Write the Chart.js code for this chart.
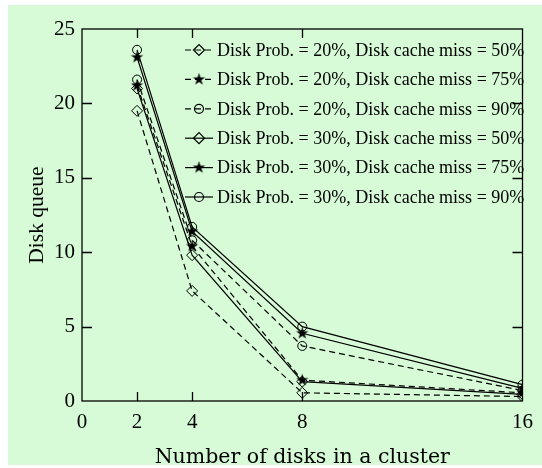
<!DOCTYPE html>
<html>
<head>
<meta charset="utf-8">
<script src="https://cdn.jsdelivr.net/npm/chart.js@4.4.0/dist/chart.umd.min.js"></script>
<style>
  html, body { margin: 0; padding: 0; background: #ffffff; }
</style>
</head>
<body>
<canvas id="myChart" width="542" height="468"></canvas>
<script>
// discos por cluster y cola de disco medida
const discos = [2, 4, 8, 16];
const ticksX = [0, 2, 4, 8, 16];
const ticksY = [0, 5, 10, 15, 20, 25];

const p20m50 = [19.5, 7.4, 0.55, 0.3];
const p20m75 = [21.2, 10.4, 1.4, 0.55];
const p20m90 = [21.6, 10.8, 3.7, 0.7];
const p30m50 = [21.0, 9.8, 1.3, 0.45];
const p30m75 = [23.1, 11.4, 4.55, 0.85];
const p30m90 = [23.6, 11.7, 5.0, 1.1];

const etiquetas = [
    'Disk Prob. = 20%, Disk cache miss = 50%',
    'Disk Prob. = 20%, Disk cache miss = 75%',
    'Disk Prob. = 20%, Disk cache miss = 90%',
    'Disk Prob. = 30%, Disk cache miss = 50%',
    'Disk Prob. = 30%, Disk cache miss = 75%',
    'Disk Prob. = 30%, Disk cache miss = 90%'
];

const fondo = '#d6fbd6';
const fuente = '"Liberation Serif", "Times New Roman", serif';
const fuenteAncha = '"DejaVu Serif", serif';

// estrella rellena de 5 puntas para los marcadores
function hacerEstrella(r) {
    const c = document.createElement('canvas');
    c.width = c.height = Math.ceil(r * 2 + 2);
    const g = c.getContext('2d');
    const cx = c.width / 2, cy = c.height / 2;
    g.beginPath();
    for (let i = 0; i < 10; i++) {
        const rr = i % 2 ? r * 0.38 : r;
        const a = -Math.PI / 2 + i * Math.PI / 5;
        g.lineTo(cx + rr * Math.cos(a), cy + rr * Math.sin(a));
    }
    g.closePath();
    g.fillStyle = '#000';
    g.fill();
    return c;
}
const estrella = hacerEstrella(6.5);

function serie(label, data, estilo, radio, rayado) {
    return {
        label: label,
        data: discos.map((d, i) => ({x: d, y: data[i]})),
        borderColor: '#000',
        backgroundColor: 'rgba(0,0,0,0)',
        borderWidth: 1.2,
        borderDash: rayado ? [6, 4] : [],
        pointStyle: estilo,
        pointRadius: radio,
        pointBorderColor: '#000',
        pointBackgroundColor: 'rgba(0,0,0,0)',
        pointBorderWidth: 1,
        tension: 0
    };
}

// fondo verde con margen blanco
const fondoPlugin = {
    id: 'fondo',
    beforeDraw(chart) {
        const ctx = chart.ctx;
        ctx.save();
        ctx.fillStyle = fondo;
        ctx.fillRect(8, 5, chart.width - 8, chart.height - 8);
        ctx.restore();
    }
};

// marco y marcas hacia adentro en los cuatro lados
const marcoPlugin = {
    id: 'marco',
    beforeDatasetsDraw(chart) {
        const {ctx, chartArea: a, scales} = chart;
        ctx.save();
        ctx.strokeStyle = '#000';
        ctx.lineWidth = 1.3;
        ctx.strokeRect(a.left, a.top, a.right - a.left, a.bottom - a.top);
        ctx.beginPath();
        ticksX.forEach(v => {
            if (v === 0 || v === 16) return;
            const x = Math.round(scales.x.getPixelForValue(v)) + 0.5;
            ctx.moveTo(x, a.bottom); ctx.lineTo(x, a.bottom - 9);
            ctx.moveTo(x, a.top); ctx.lineTo(x, a.top + 9);
        });
        ticksY.forEach(v => {
            if (v === 0 || v === 25) return;
            const y = Math.round(scales.y.getPixelForValue(v)) + 0.5;
            ctx.moveTo(a.left, y); ctx.lineTo(a.left + 10, y);
            ctx.moveTo(a.right, y); ctx.lineTo(a.right - 10, y);
        });
        ctx.stroke();
        ctx.restore();
    }
};

// leyenda dentro del area, linea corta con marcador
const leyendaPlugin = {
    id: 'leyenda',
    afterDatasetsDraw(chart) {
        const {ctx, chartArea: a} = chart;
        ctx.save();
        chart.data.datasets.forEach((ds, i) => {
            const y = a.top + 21 + i * 29.4;
            const x0 = a.left + 103;
            ctx.strokeStyle = '#000';
            ctx.lineWidth = 1.2;
            ctx.setLineDash(ds.borderDash);
            ctx.beginPath();
            ctx.moveTo(x0, y);
            ctx.lineTo(x0 + 28, y);
            ctx.stroke();
            ctx.setLineDash([]);
            ctx.fillStyle = 'rgba(0,0,0,0)';
            Chart.helpers.drawPoint(ctx, {
                pointStyle: ds.pointStyle,
                radius: ds.pointRadius,
                borderWidth: 1,
                rotation: 0
            }, x0 + 14, y);
            ctx.fillStyle = '#000';
            ctx.font = '18px ' + fuente;
            ctx.textBaseline = 'middle';
            ctx.textAlign = 'left';
            ctx.fillText(ds.label, x0 + 32, y + 1);
        });
        ctx.restore();
    }
};

var ctx = document.getElementById('myChart').getContext('2d');
var myChart = new Chart(ctx, {
    type: 'line',
    data: {
        datasets: [
            serie(etiquetas[0], p20m50, 'rectRot', 5.5, true),
            serie(etiquetas[1], p20m75, estrella, 6, true),
            serie(etiquetas[2], p20m90, 'circle', 4.5, true),
            serie(etiquetas[3], p30m50, 'rectRot', 5.5, false),
            serie(etiquetas[4], p30m75, estrella, 6, false),
            serie(etiquetas[5], p30m90, 'circle', 4.5, false)
        ]
    },
    options: {
        responsive: false,
        animation: false,
        devicePixelRatio: 1,
        layout: { padding: { left: 0, top: 29, right: 13, bottom: 0 } },
        plugins: { legend: { display: false }, tooltip: { enabled: false } },
        scales: {
            x: {
                type: 'linear',
                min: 0,
                max: 16,
                afterFit(s) { s.height = 67; },
                afterBuildTicks(s) { s.ticks = ticksX.map(v => ({value: v})); },
                grid: { display: false, drawTicks: false },
                border: { display: false },
                ticks: { color: '#000', padding: 9, maxRotation: 0, font: { family: fuente, size: 21 } },
                title: {
                    display: true,
                    text: 'Number of disks in a cluster',
                    color: '#000',
                    padding: { top: 0, bottom: 0 },
                    font: { family: fuenteAncha, size: 20.5, lineHeight: 1 }
                }
            },
            y: {
                min: 0,
                max: 25,
                afterFit(s) { s.width = 82; },
                afterBuildTicks(s) { s.ticks = ticksY.map(v => ({value: v})); },
                grid: { display: false, drawTicks: false },
                border: { display: false },
                ticks: { color: '#000', padding: 7, font: { family: fuente, size: 21 } },
                title: {
                    display: true,
                    text: 'Disk queue',
                    color: '#000',
                    padding: { top: 24, bottom: 0 },
                    font: { family: fuente, size: 21.5 }
                }
            }
        }
    },
    plugins: [fondoPlugin, marcoPlugin, leyendaPlugin]
});
</script>
</body>
</html>
